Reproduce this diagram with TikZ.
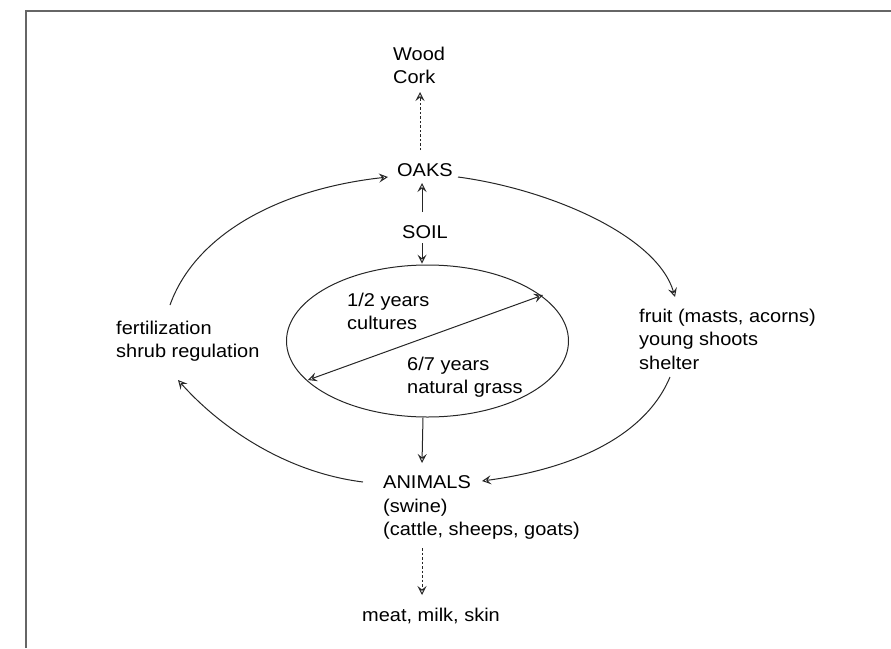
\documentclass[tikz,border=0pt]{standalone}
\usepackage{fontspec}
\setmainfont[FakeStretch=1.08]{Liberation Sans}
\usetikzlibrary{shapes.geometric,arrows.meta}
\begin{document}
\begin{tikzpicture}[x=1pt,y=1pt,
  txt/.style={inner sep=0pt, anchor=north west, align=left, text=black,
    font=\fontsize{18.5}{23.5}\selectfont},
  conn/.style={draw=black!85, line width=1pt},
  tipx/.style={-{Stealth[open,length=9pt,width=9pt,inset=3.5pt]}},
  arr/.style={conn, tipx},
  darr/.style={conn, tipx, dash pattern=on 2.5pt off 2pt},
  frame/.style={draw=black!60, line width=1.6pt}
]
\useasboundingbox (0,0) rectangle (891,-648);
\draw[frame] (26,-648) -- (26,-11) -- (891,-11);

\node[txt] (wood)  at (393,-46.5)  {Wood\\Cork};
\node[txt] (oaks)  at (397,-163.5) {OAKS};
\node[txt] (soil)  at (402,-225.5) {SOIL};
\node[draw=black!85, line width=1pt, ellipse, inner sep=0pt,
      minimum width=282pt, minimum height=152pt] (ell) at (427.5,-341) {};
\node[txt] (cult)  at (347,-292.5) {1/2 years\\cultures};
\node[txt] (grass) at (407,-356.5) {6/7 years\\natural grass};
\node[txt] (anim)  at (383,-475.5) {ANIMALS\\(swine)\\(cattle, sheeps, goats)};
\node[txt] (meat)  at (362,-608)   {meat, milk, skin};
\node[txt] (fruit) at (639,-308.5) {fruit (masts, acorns)\\young shoots\\shelter};
\node[txt] (fert)  at (116,-320.5) {fertilization\\shrub regulation};

% products
\draw[darr] ([shift={(23,13.5)}]oaks.north west) -- ([shift={(27,-45.5)}]wood.north west);
\draw[darr] ([shift={(39,-72.5)}]anim.north west) -- ([shift={(60,13)}]meat.north west);

% soil
\draw[arr] ([shift={(20,13.5)}]soil.north west) -- ([shift={(25,-19.5)}]oaks.north west);
\draw[arr] ([shift={(20,-17.5)}]soil.north west) -- ([shift={(-5.5,0.8)}]ell.north);

% rotation
\draw[conn, {Stealth[open,length=9pt,width=9pt,inset=3.5pt]}-{Stealth[open,length=9pt,width=9pt,inset=3.5pt]}]
  ([shift={(-119.5,-39)}]ell.center) -- ([shift={(115.5,46)}]ell.center);
\draw[arr] ([shift={(-4.5,0)}]ell.south) -- ([shift={(39,12.5)}]anim.north west);

% outer cycle
\draw[arr] ([shift={(61,-13.5)}]oaks.north west) .. controls +(90,-12) and +(-18,62) .. ([shift={(36,11.5)}]fruit.north west);
\draw[arr] ([shift={(31,-68.5)}]fruit.north west) .. controls +(-25,-60) and +(90,12) .. ([shift={(99,-5.5)}]anim.north west);
\draw[arr] ([shift={(-20,-6.5)}]anim.north west) .. controls +(-80,10) and +(40,-45) .. ([shift={(62,-59.5)}]fert.north west);
\draw[arr] ([shift={(54,15.5)}]fert.north west) .. controls +(25,70) and +(-110,-12) .. ([shift={(-9,-13.5)}]oaks.north west);
\end{tikzpicture}
\end{document}
